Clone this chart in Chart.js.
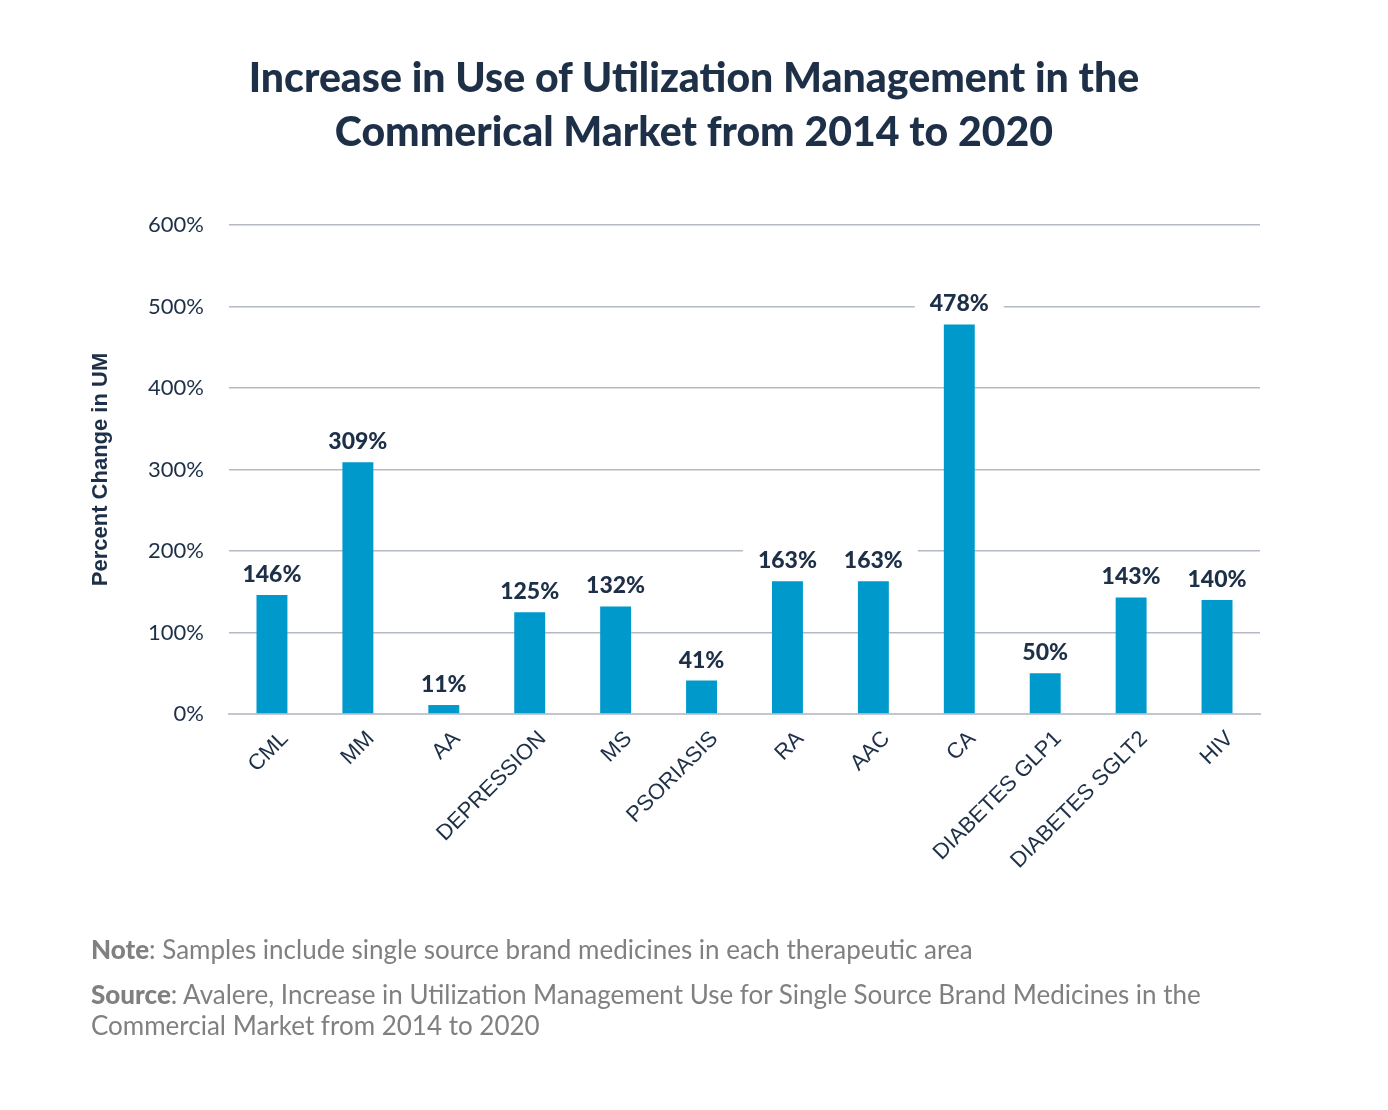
<!DOCTYPE html>
<html>
<head>
<meta charset="utf-8">
<script src="https://cdn.jsdelivr.net/npm/chart.js@4"></script>
<style>
  html, body { margin: 0; padding: 0; background: #fff; }
  #wrap { position: relative; width: 1388px; height: 1110px; }
  #title {
    position: absolute; left: 0; top: 50px; width: 1388px;
    text-align: center; font-family: Lato, sans-serif; font-weight: 900;
    font-size: 41px; line-height: 54px; color: #1d3048;
  }
  #chart { position: absolute; left: 0; top: 0; }
  .foot {
    position: absolute; left: 91px; font-family: Lato, sans-serif;
    font-size: 26px; color: #808080; line-height: 31px;
  }
  .foot b { font-weight: 900; }
</style>
</head>
<body>
<div id="wrap">
  <canvas id="chart" width="1388" height="1110"></canvas>
  <div id="title">Increase in Use of Utilization Management in the<br>Commerical Market from 2014 to 2020</div>
  <div class="foot" style="top:934px"><b>Note</b>: Samples include single source brand medicines in each therapeutic area</div>
  <div class="foot" style="top:979px"><b>Source</b>: Avalere, Increase in Utilization Management Use for Single Source Brand Medicines in the<br>Commercial Market from 2014 to 2020</div>
</div>
<script>
const categories = ['CML', 'MM', 'AA', 'DEPRESSION', 'MS', 'PSORIASIS', 'RA', 'AAC', 'CA', 'DIABETES GLP1', 'DIABETES SGLT2', 'HIV'];
const pctChange = [146, 309, 11, 125, 132, 41, 163, 163, 478, 50, 143, 140];
const yTicks = [0, 100, 200, 300, 400, 500, 600];

const navy = '#1d3048';

// draw the value above each bar, on a white box that hides the grid line
const valueLabels = {
    id: 'valueLabels',
    afterDatasetsDraw(chart) {
        const ctx = chart.ctx;
        const meta = chart.getDatasetMeta(0);
        ctx.save();
        ctx.font = '900 23px Lato, sans-serif';
        ctx.textAlign = 'center';
        ctx.textBaseline = 'alphabetic';
        meta.data.forEach((bar, i) => {
            const text = pctChange[i] + '%';
            const w = ctx.measureText(text).width;
            const y = bar.y - 13;
            ctx.fillStyle = '#fff';
            ctx.fillRect(bar.x - w / 2 - 15, y - 25, w + 30, 31);
            ctx.fillStyle = navy;
            ctx.fillText(text, bar.x, y);
        });
        ctx.restore();
    }
};

new Chart(document.getElementById('chart'), {
    type: 'bar',
    data: {
        labels: categories,
        datasets: [{
            data: pctChange,
            backgroundColor: '#0099cc',
            barPercentage: 0.36,
            categoryPercentage: 1
        }]
    },
    options: {
        responsive: false,
        animation: false,
        layout: { padding: { left: 88, right: 128, top: 225, bottom: 196 } },
        plugins: {
            legend: { display: false },
            tooltip: { enabled: false }
        },
        scales: {
            x: {
                grid: { display: false },
                border: { color: '#c2c7cf', width: 2 },
                afterFit: (axis) => { axis.height = 200; },
                ticks: {
                    color: navy,
                    minRotation: 45,
                    maxRotation: 45,
                    padding: 4,
                    labelOffset: 13,
                    autoSkip: false,
                    font: { family: 'Liberation Sans, Arial, sans-serif', size: 22 }
                }
            },
            y: {
                min: 0,
                max: 600,
                afterFit: (axis) => { axis.width = 141; },
                afterBuildTicks: (axis) => { axis.ticks = yTicks.map(v => ({ value: v })); },
                border: { display: false },
                grid: { color: '#b4bac3', lineWidth: 1.5, drawTicks: false },
                ticks: {
                    color: navy,
                    padding: 25,
                    font: { family: 'Lato, sans-serif', size: 22 },
                    callback: (v) => v + '%'
                },
                title: {
                    display: true,
                    text: 'Percent Change in UM',
                    color: navy,
                    padding: 0,
                    font: { family: 'Liberation Sans, Arial, sans-serif', size: 22, weight: 'bold' }
                }
            }
        }
    },
    plugins: [valueLabels]
});
</script>
</body>
</html>
